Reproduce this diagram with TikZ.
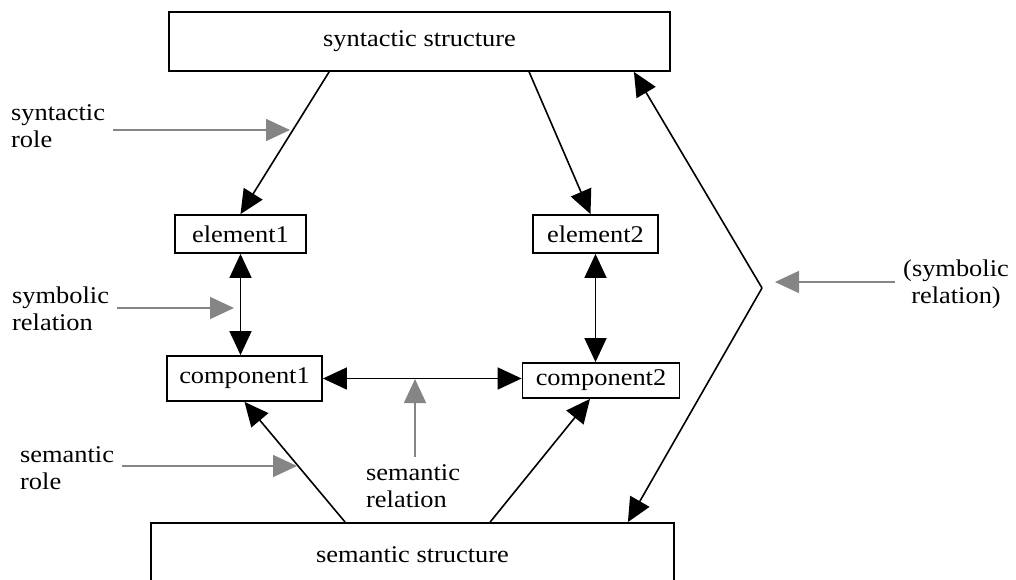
\documentclass[tikz,border=0pt]{standalone}
\usepackage{fontspec}
\setmainfont{Liberation Serif}[FakeStretch=1.1]
\usetikzlibrary{arrows.meta,calc,positioning}
\tikzset{
  >={Triangle[length=24pt,width=22pt]},
  block/.style={
    rectangle,
    draw=black, line width=1.8pt,
    inner sep=0pt,
    text centered},
  line/.style={draw, line width=1.6pt},
  hint/.style={draw, line width=1.6pt, color=black!48, ->, shorten <=8pt},
  tag/.style={align=left, inner sep=0pt},
}

\begin{document}
\begin{tikzpicture}[x=1pt,y=-1pt,font=\fontsize{24}{27}\selectfont]

    \useasboundingbox (0,0) rectangle (1016,580);

    % boxes
    \node[block, minimum width=501pt, minimum height=59pt] (syn) at (419.5,41.5) {syntactic structure};
    \node[block, minimum width=523pt, minimum height=64pt] (sem) at (412.5,555) {semantic structure};
    \node[block, minimum width=131pt, minimum height=38pt] (el1) at (240.5,234) {element1};
    \node[block, minimum width=125pt, minimum height=38pt] (el2) at (595.5,234) {element2};
    \node[block, minimum width=155pt, minimum height=45pt] (comp1) at (244.5,378.5) {component1};
    \node[block, minimum width=157pt, minimum height=35pt] (comp2) at (601,380.5) {component2};

    % black connectors
    \coordinate (v) at (762,288);
    \draw[line,->] (v) -- ($(syn.south east)+(-37,0)$);
    \draw[line,->] (v) -- ($(sem.north east)+(-47,0)$);
    \draw[line,->] ($(syn.south west)+(161,0)$) -- (el1.north);
    \draw[line,->] ($(syn.south west)+(361,0)$) -- ($(el2.north)+(-5,0)$);
    \draw[line,<->] (el1.south) -- (el1.south |- comp1.north);
    \draw[line,<->] (el2.south) -- (el2.south |- comp2.north);
    \draw[line,<->] (comp1.east) -- (comp1.east -| comp2.west);
    \draw[line,->] ($(sem.north west)+(195,0)$) -- (comp1.south);
    \draw[line,->] ($(sem.north west)+(340,0)$) -- ($(comp2.south)+(-11,0)$);

    % labels
    \node[tag, anchor=west] (synrole) at (11,126.5) {syntactic\\role};
    \node[tag, anchor=west] (symrel) at (12,308.5) {symbolic\\relation};
    \node[tag, anchor=west] (semrole) at (20,468.5) {semantic\\role};
    \node[tag, anchor=west] (semrel) at (366,486.5) {semantic\\relation};
    \node[tag, align=center] (symrelr) at (956,284) {(symbolic\\relation)};

    % gray pointers
    \coordinate (synroletip) at (290,130);
    \coordinate (symreltip) at (234,308);
    \coordinate (semroletip) at (297,466);
    \coordinate (semreltip) at (415,379);
    \coordinate (symrelrtip) at (775,282);
    \draw[hint] (synrole.east |- synroletip) -- (synroletip);
    \draw[hint] (symrel.east |- symreltip) -- (symreltip);
    \draw[hint] (semrole.east |- semroletip) -- (semroletip);
    \draw[hint] (semrel.north -| semreltip) -- (semreltip);
    \draw[hint] (symrelr.west |- symrelrtip) -- (symrelrtip);
  \end{tikzpicture}
\end{document}
